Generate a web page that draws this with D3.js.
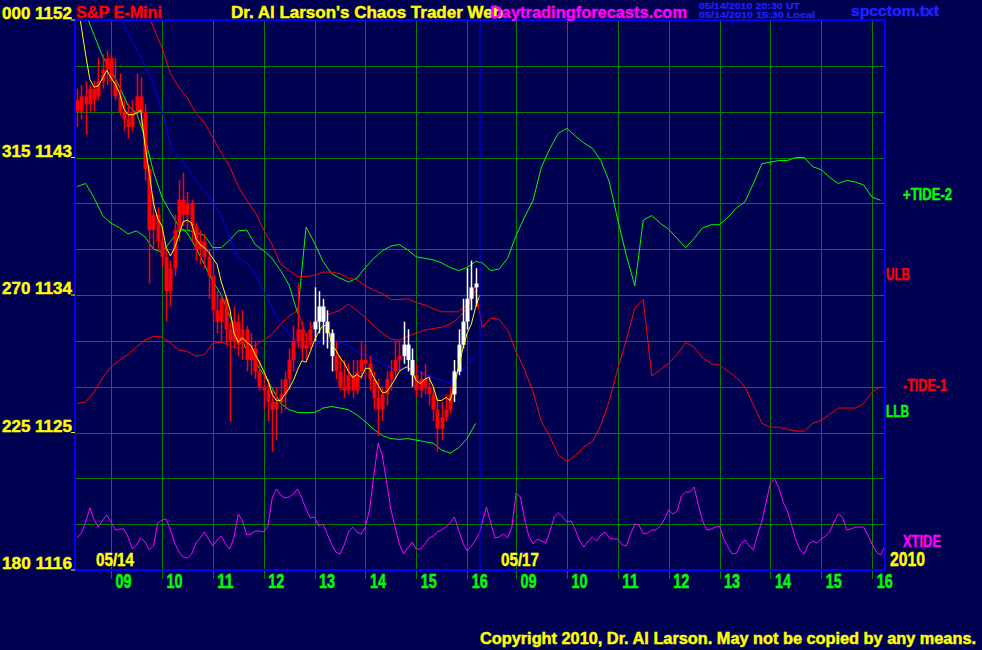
<!DOCTYPE html>
<html><head><meta charset="utf-8">
<script src="https://cdn.jsdelivr.net/npm/d3@7"></script>
<style>html,body{margin:0;padding:0;background:#000050;overflow:hidden}</style>
</head><body>
<svg id="c" width="982" height="650"></svg>
<script>
// ---------------- DATA ----------------
const degLabels = ["000","315","270","225","180"];
const priceLabels = [1152,1143,1134,1125,1116];
const hourTicks = [9,10,11,12,13,14,15,16];
const hourLabels = ["09","10","11","12","13","14","15","16"];
const dayLabels = ["05/14","05/17"];
const yearLabel = "2010";

// 5-minute bars, 05/14 session
const open = [1146.75,1146.0,1147.0,1146.5,1147.5,1147.0,1148.0,1148.75,1149.5,1148.0,
1147.0,1146.0,1145.5,1145.0,1146.0,1147.0,1146.0,1142.25,1138.25,1139.25,
1137.5,1136.5,1134.25,1135.75,1138.25,1140.25,1139.25,1140.0,1138.5,1137.0,
1137.5,1136.5,1135.25,1133.0,1132.25,1133.75,1131.75,1131.0,1132.25,1130.75,
1131.75,1129.75,1130.5,1129.0,1128.0,1127.75,1127.0,1126.5,1127.0,1127.5,
1128.5,1129.75,1131.0,1131.75,1130.5,1130.75,1131.75,1132.25,1133.25,1132.25,
1131.5,1130.0,1129.0,1128.0,1127.75,1128.75,1127.75,1129.0,1129.75,1129.5,
1128.5,1127.25,1126.5,1127.5,1128.5,1129.0,1129.75,1130.0,1130.75,1129.75,
1128.75,1127.75,1128.5,1128.0,1127.5,1126.5,1125.25,1126.0,1126.5,1127.5,
1129.0,1130.75,1132.25,1133.75,1134.5];
const high = [1147.5,1147.75,1148.0,1147.75,1148.0,1149.5,1149.75,1150.0,1149.75,1149.5,
1148.5,1146.75,1146.5,1146.75,1148.5,1148.25,1146.5,1142.5,1140.5,1139.75,
1138.5,1137.0,1136.25,1139.25,1141.5,1142.0,1140.75,1140.25,1138.75,1138.25,
1138.0,1137.0,1136.0,1134.25,1134.0,1134.0,1132.25,1133.25,1132.75,1133.0,
1132.0,1131.5,1131.0,1129.75,1129.0,1128.5,1127.75,1128.0,1128.5,1129.0,
1130.5,1132.0,1134.75,1132.25,1131.5,1132.25,1134.5,1134.25,1133.75,1133.0,
1131.75,1131.0,1130.0,1129.75,1129.5,1129.75,1129.75,1131.0,1130.75,1130.0,
1129.0,1128.5,1128.0,1129.0,1129.75,1131.0,1131.0,1132.25,1131.75,1130.5,
1129.5,1129.0,1129.5,1128.75,1128.0,1127.25,1127.0,1127.5,1128.0,1129.75,
1131.75,1133.75,1135.75,1136.25,1135.75];
const low = [1145.0,1145.5,1144.5,1146.0,1146.0,1146.75,1147.5,1147.75,1147.0,1146.75,
1145.75,1144.75,1144.25,1144.75,1145.75,1145.0,1141.5,1134.75,1137.0,1137.0,
1135.75,1132.25,1133.25,1135.25,1137.5,1138.5,1138.25,1137.5,1136.25,1136.0,
1135.75,1133.75,1132.25,1131.5,1131.0,1130.75,1125.75,1130.5,1130.0,1129.75,
1129.0,1128.75,1128.5,1127.75,1126.5,1125.75,1123.75,1124.5,1126.25,1126.5,
1127.75,1129.0,1130.5,1129.75,1129.75,1130.5,1131.0,1131.5,1130.75,1130.5,
1129.0,1128.5,1127.75,1127.25,1127.5,1127.25,1127.5,1128.5,1128.5,1127.75,
1126.5,1124.75,1125.75,1126.75,1127.75,1128.5,1129.0,1129.5,1129.0,1128.0,
1127.25,1127.25,1127.5,1126.75,1125.75,1123.75,1124.5,1125.75,1126.25,1127.0,
1128.75,1130.5,1131.75,1133.0,1133.25];
const close = [1146.0,1147.0,1146.5,1147.5,1146.75,1148.0,1148.75,1149.5,1148.0,1147.0,
1146.0,1145.5,1145.0,1146.0,1147.0,1146.0,1142.25,1138.25,1139.25,1137.5,
1136.5,1134.25,1135.75,1138.25,1140.25,1139.25,1140.0,1138.5,1137.0,1137.5,
1136.5,1135.25,1133.0,1132.25,1133.75,1131.75,1131.0,1132.25,1130.75,1131.75,
1129.75,1130.5,1129.0,1128.0,1127.75,1127.0,1126.5,1127.0,1127.5,1128.5,
1129.75,1131.0,1131.75,1130.5,1130.75,1131.75,1132.25,1133.25,1132.25,1131.5,
1130.0,1129.0,1128.0,1127.75,1128.75,1127.75,1129.0,1129.75,1129.5,1128.5,
1127.25,1126.5,1127.5,1128.5,1129.0,1129.75,1130.0,1130.75,1129.75,1128.75,
1127.75,1128.5,1128.0,1127.5,1126.5,1125.25,1126.0,1126.5,1127.5,1129.0,
1130.75,1132.25,1133.75,1134.5,1134.75];
const whiteBars = [56,57,58,59,60,77,78,79,89,90,91,92,93,94];

// fast average (yellow), one value per 5-minute bar
const yellowLine = [1153.3,1151.5,1149.7,1148.1,1147.6,1147.7,1148.2,1148.7,1148.2,1147.8,
1147.2,1146.2,1145.8,1145.8,1145.9,1146.1,1143.8,1142.0,1140.0,1139.0,
1138.5,1137.1,1136.55,1137.1,1137.9,1138.8,1138.9,1138.7,1137.7,1137.3,
1137.1,1136.8,1136.4,1136.0,1134.85,1134.0,1133.1,1131.5,1130.9,1131.2,
1130.9,1130.7,1130.1,1129.6,1129.0,1128.4,1127.5,1127.1,1127.1,1127.5,
1127.9,1128.4,1129.1,1129.7,1129.6,1130.3,1131.05,1131.6,1132.0,1132.0,
1130.85,1130.4,1129.9,1129.55,1129.0,1128.6,1128.8,1128.6,1129.2,1129.2,
1128.6,1128.1,1127.6,1127.65,1128.05,1128.5,1129.0,1129.2,1129.3,1129.0,
1128.4,1128.2,1128.5,1128.6,1128.0,1127.1,1127.1,1127.3,1127.1,1128.1,
1129.3,1130.5,1131.5,1132.1,1133.2,1134.0];

// 10-minute samples, 05/14 session
const blueLine = [1157,1156,1155.2,1154.3,1153.3,
1152.3,1151.1,1150.1,1149.05,1147.75,1146.1,1143.8,1143.0,1142.3,1141.5,
1140.8,1140.1,1139.2,1137.8,1136.4,1136.1,1135.4,1134.2,1133.2,1132.1,
1131.5,1130.8,1130.6,1130.7,1131.0,1131.1,1130.9,1130.7,1130.3,1130.1,
1129.8,1129.5,1129.2,1129.2,1129.15,1129.1,1128.8,1128.6,1128.4,1128.25,
1128.8,1129.4,1130.1];
const ulb = [1158.5,1158,1157.4,1156.8,1156.0,1155.3,1154.5,1153.6,1152.8,1151.5,
1150.2,1148.5,1147.6,1146.9,1145.9,1145.3,1144.3,1143.3,1142.4,1141.1,
1140.2,1139.4,1138.25,1137.3,1136.0,1135.6,1135.2,1135.2,1135.3,1135.5,
1135.5,1135.4,1135.1,1135.0,1134.6,1134.3,1134.1,1133.7,1133.7,1133.75,
1133.5,1133.35,1133.1,1132.9,1132.9,1132.9,1133.35,1134.65];
const llb = [1154,1152.4,1151.0,1149.6,1148.7,1147.6,1146.4,1145.9,1144.3,1142.05,
1140.4,1139.4,1138.5,1138.05,1137.1,1136.0,1134.9,1134.0,1132.6,1131.5,
1130.4,1129.6,1128.8,1127.9,1126.9,1126.5,1126.3,1126.3,1126.3,1126.6,
1126.7,1126.6,1126.5,1126.15,1125.7,1125.2,1124.8,1124.6,1124.55,1124.6,
1124.5,1124.4,1124.3,1123.85,1123.65,1124.0,1124.6,1125.6];

// 10-minute samples, 05/14 then 05/17
const tidePlus2 = [1141.1,1141.3,1140.35,1139.2,1138.7,1138.4,1138.0,1138.2,1137.8,1137.0,
1136.8,1137.5,1138.25,1138.25,1138.1,1137.9,1137.1,1137.1,1137.6,1138.2,
1138.25,1137.3,1136.9,1136.4,1135.6,1134.65,1132.8,1138.45,1137.4,1136.2,
1135.4,1135.1,1134.85,1135.1,1135.8,1136.4,1136.9,1137.2,1137.3,1136.95,
1136.5,1136.4,1136.3,1136.1,1135.8,1135.6,1135.8,1136.2,
1136.1,1135.6,1135.7,1136.4,1137.9,1139.1,1140.2,1142.4,1143.6,1144.6,
1144.9,1144.4,1143.95,1143.6,1142.8,1141.4,1138.9,1136.6,1134.6,1138.9,
1139.2,1138.7,1138.3,1137.7,1137.1,1137.7,1138.4,1138.6,1138.6,1139.1,
1139.7,1140.1,1141.3,1142.6,1142.7,1142.8,1142.8,1143.0,1143.0,1142.4,
1142.2,1141.7,1141.3,1141.5,1141.4,1141.2,1140.4,1140.2];
const tideMinus1 = [1126.9,1127.0,1127.65,1128.6,1129.3,1129.75,1130.1,1130.6,1131.05,1131.3,
1131.25,1130.85,1130.4,1130.3,1130.0,1130.1,1130.85,1130.9,1130.7,1130.5,
1130.6,1130.7,1131.05,1131.45,1132.1,1132.6,1133.0,1131.3,1132.2,1132.6,
1132.8,1133.0,1133.4,1133.0,1132.5,1132.0,1131.5,1131.1,1131.05,1131.3,
1131.5,1131.7,1131.8,1131.9,1132.1,1132.5,1133.15,1134.3,
1131.9,1132.5,1132.4,1131.7,1130.3,1129.1,1127.65,1125.7,1124.7,1123.5,
1123.1,1123.5,1124.05,1124.4,1125.5,1127.1,1129.2,1131.05,1133.15,1133.7,
1128.7,1129.1,1129.55,1130.1,1130.9,1130.6,1129.9,1129.5,1129.4,1129.0,
1128.6,1128.0,1126.8,1125.6,1125.35,1125.35,1125.2,1125.1,1125.1,1125.6,
1125.8,1126.2,1126.6,1126.6,1126.6,1126.9,1127.65,1128.0];

// 5-minute samples, 05/14 then 05/17
const xtide = [-38,-33,-22,-8,-20,-27,-20,-15,-22,-30,
-29,-29,-37,-49,-45,-38,-42,-50,-46,-23,
-20,-19,-30,-43,-52,-57,-58,-54,-43,-38,
-32,-39,-46,-40,-36,-44,-49,-37,-14,-21,
-35,-34,-31,-31,-32,-26,2,11,5,2,
3,6,11,2,-9,-18,-17,-26,-24,-34,
-44,-52,-54,-45,-32,-27,-32,-34,-27,-9,
25,57,44,18,-9,-27,-44,-54,-48,-42,
-49,-49,-44,-38,-36,-32,-30,-27,-23,-17,
-30,-43,-51,-46,-40,-32,
-22,-7,-23,-38,-37,-34,-38,-27,7,3,
-19,-36,-44,-39,-41,-43,-31,-17,-13,-17,
-22,-21,-30,-41,-47,-41,-37,-41,-35,-32,
-38,-39,-39,-45,-46,-34,-24,-25,-34,-33,
-30,-30,-26,-19,-10,-14,-11,4,8,8,
13,-5,-21,-30,-29,-27,-26,-39,-47,-54,
-53,-44,-40,-46,-50,-34,-21,-2,17,21,
12,-2,-11,-25,-40,-50,-54,-44,-41,-43,
-39,-36,-32,-22,-14,-17,-30,-29,-27,-27,
-27,-35,-44,-52,-55,-46];

// ---------------- CHART ----------------
const svg = d3.select("#c");
const L = 75, R = 885, T = 20, B = 570;
const FONT = "'Liberation Sans', Arial, Helvetica, sans-serif";
const C = {bg:"#000050", grid:"#008000", border:"#0000ff", red:"#ff0000", green:"#00ff00",
  yellow:"#ffff00", magenta:"#ff00ff", blue:"#0000ff", white:"#ffffff", smallBlue:"#2020ff"};

svg.append("rect").attr("width",982).attr("height",650).attr("fill",C.bg);

// session hour scale: 05/14 = hours, 05/17 = 24 + hours
const x = d3.scaleLinear().domain([8.29,16.253,32.29,40.253]).range([L,480,480,R]);
const y = d3.scaleLinear().domain([1116,1152]).range([B,T]);
const yX = d3.scaleLinear().domain([-70,70]).range([B,430]);
const bar5 = (day,i) => day*24 + 8 + 20/60 + i*5/60;
const bar10 = (day,j) => day*24 + 8 + 20/60 + j*10/60;

// horizontal grid through an axis
const gy = svg.append("g").attr("transform",`translate(${L},0)`)
  .call(d3.axisLeft(y).tickValues(d3.range(1116,1153,3)).tickSize(-(R-L)).tickFormat(""));
gy.select(".domain").remove();
gy.selectAll("line").attr("stroke",C.grid).attr("stroke-width",1).attr("shape-rendering","crispEdges");

// vertical grid + hour ticks through an axis
const hourVals = hourTicks.concat(hourTicks.map(h=>h+24));
const gx = svg.append("g").attr("transform",`translate(0,${B+9})`)
  .call(d3.axisBottom(x).tickValues(hourVals).tickSizeInner(-(B+9-T)).tickSizeOuter(0)
    .tickFormat((d,i)=>hourLabels[i % hourLabels.length]));
gx.select(".domain").remove();
gx.selectAll("line").attr("stroke",C.grid).attr("stroke-width",1).attr("shape-rendering","crispEdges");
gx.selectAll("text").attr("fill",C.green).attr("font-family",FONT).attr("font-weight","bold")
  .attr("font-size",20).attr("text-anchor","start").attr("dx",4).attr("y",9)
  .attr("dy",0).attr("textLength",16).attr("lengthAdjust","spacingAndGlyphs")
  .attr("stroke",C.green).attr("stroke-width",0.5);

// clip
svg.append("clipPath").attr("id","plot").append("rect")
  .attr("x",L).attr("y",T).attr("width",R-L).attr("height",B-T);
const P = svg.append("g").attr("clip-path","url(#plot)");

function drawLine(vals, tf, scale, color){
  const pts = vals.map((v,i)=>[tf(i), v]);
  P.append("path").datum(pts)
    .attr("d", d3.line().x(d=>x(d[0])).y(d=>scale(d[1])))
    .attr("fill","none").attr("stroke",color).attr("stroke-width",1);
}
const t5both = i => i < 96 ? bar5(0,i) : bar5(1,i-96);
const t10both = j => j < 48 ? bar10(0,j) : bar10(1,j-48);

drawLine(xtide, t5both, yX, C.magenta);
drawLine(tidePlus2, t10both, y, C.green);
drawLine(tideMinus1, t10both, y, C.red);
drawLine(ulb, j=>bar10(0,j), y, C.red);
drawLine(llb, j=>bar10(0,j), y, C.green);
drawLine(blueLine, j=>bar10(0,j), y, C.blue);

// candles
const bars = open.map((o,i)=>({i,o,h:high[i],l:low[i],c:close[i]}));
const cg = P.append("g");
const bx = d => Math.round(x(bar5(0,d.i)));
cg.selectAll("line.w").data(bars).join("line")
  .attr("x1",d=>bx(d)+0.5).attr("x2",d=>bx(d)+0.5)
  .attr("y1",d=>y(d.h)).attr("y2",d=>y(d.l))
  .attr("stroke",d=>whiteBars.includes(d.i)?C.white:C.red).attr("stroke-width",1.5);
cg.selectAll("rect.b").data(bars).join("rect")
  .attr("x",d=>bx(d)-1.5).attr("width",4)
  .attr("y",d=>Math.min(y(d.o),y(d.c)))
  .attr("height",d=>Math.max(1.5,Math.abs(y(d.o)-y(d.c))))
  .attr("fill",d=>whiteBars.includes(d.i)?C.white:C.red);

drawLine(yellowLine, i=>bar5(0,i), y, C.yellow);

// day divider and frame
svg.append("line").attr("x1",x(16.253)).attr("x2",x(16.253)).attr("y1",T).attr("y2",B)
  .attr("stroke",C.border).attr("stroke-width",1);
svg.append("rect").attr("x",L).attr("y",T).attr("width",R-L).attr("height",B-T)
  .attr("fill","none").attr("stroke",C.border).attr("stroke-width",2);

// text helper
function label(str, xx, yy, size, color, len, anchor, sw){
  const t = svg.append("text").attr("x",xx).attr("y",yy).text(str)
    .attr("fill",color).attr("font-size",size).attr("font-weight","bold")
    .attr("font-family",FONT)
    .attr("stroke",color).attr("stroke-width", sw===undefined ? 0.45 : sw);
  if(anchor) t.attr("text-anchor",anchor);
  if(len) t.attr("textLength",len).attr("lengthAdjust","spacingAndGlyphs");
  return t;
}

// left labels
priceLabels.forEach((p,i)=>{
  label(degLabels[i]+" "+p, 72, y(p)-1, 17, C.yellow, 70, "end");
  svg.append("line").attr("x1",71).attr("x2",75).attr("y1",y(p)).attr("y2",y(p))
    .attr("stroke",C.yellow).attr("stroke-width",1);
});

// header
label("S&P E-Mini", 76, 17.5, 17, C.red, 86);
label("Dr. Al Larson's Chaos Trader Web", 231, 17.5, 17, C.yellow, 272);
label("Daytradingforecasts.com", 490, 17.5, 17, C.magenta, 197);
label("05/14/2010 20:30 UT", 699, 8.5, 8.5, C.smallBlue, 101, null, 0.2);
label("05/14/2010 15:30 Local", 699, 17.5, 8.5, C.smallBlue, 116, null, 0.2);
label("spcctom.txt", 851, 15.5, 15.5, C.smallBlue, 88);

// dates
label(dayLabels[0], 96, 566, 18.5, C.yellow, 38);
label(dayLabels[1], 501, 566, 18.5, C.yellow, 38);
label(yearLabel, 890, 566, 19.5, C.yellow, 35);

// right-hand series labels
label("+TIDE-2", 903, 200, 17, C.green, 49);
label("ULB", 886, 279.5, 17, C.red, 24);
label("-TIDE-1", 903, 390.5, 17, C.red, 44);
label("LLB", 886, 416.5, 17, C.green, 23);
label("XTIDE", 903, 546.5, 17, C.magenta, 38);

// copyright
label("Copyright 2010, Dr. Al Larson. May not be copied by any means.", 480, 644, 16, C.yellow, 496);
</script>
</body></html>
